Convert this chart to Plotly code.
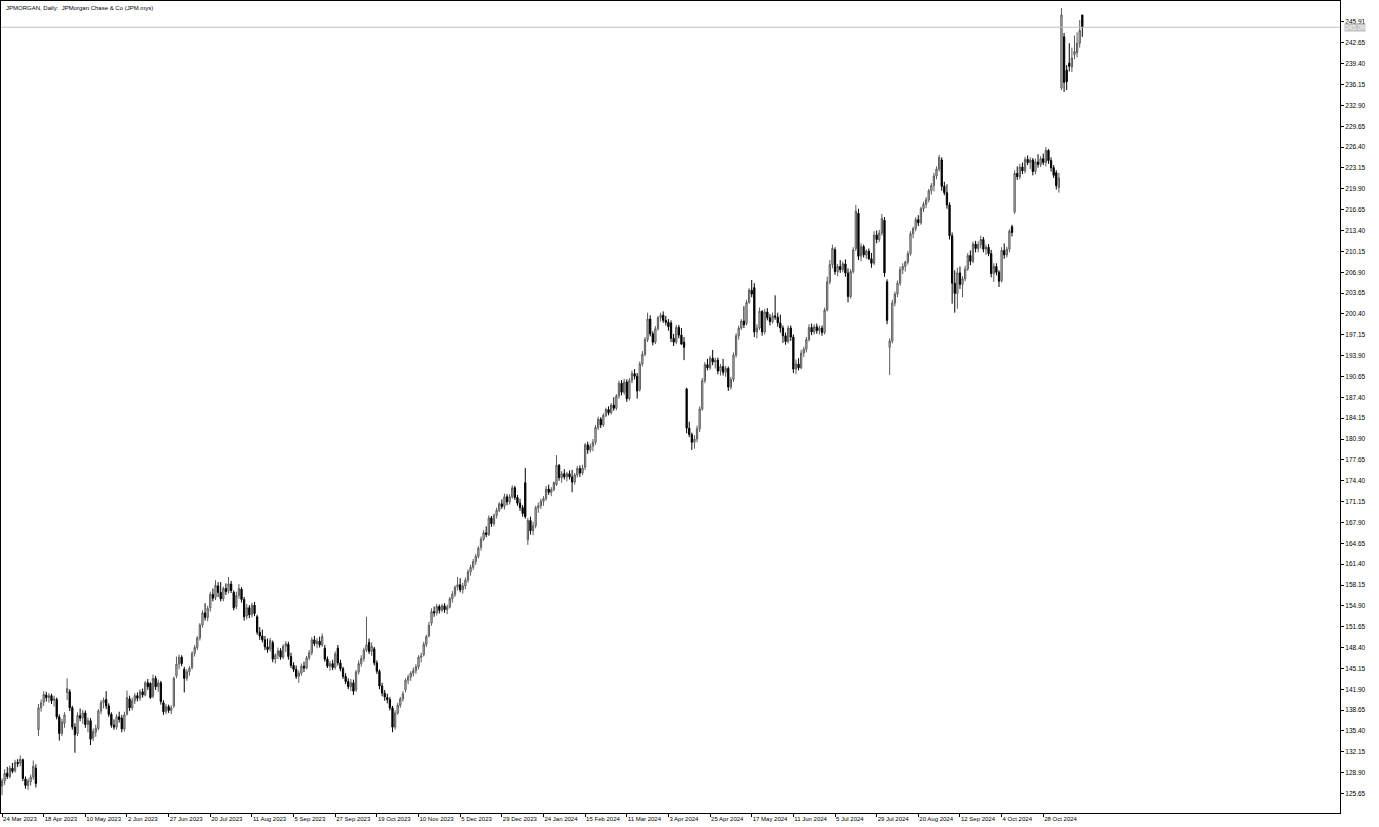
import plotly.graph_objects as go

# JPMORGAN daily bars, 24 Mar 2023 .. 18 Nov 2024 (one entry per trading day)
opens = [
    126.8, 127.6, 128.8, 128.3, 129.6, 129.2, 130.5, 130.4, 130.9, 127.9,
    126.9, 127.5, 128.2, 129.6, 135.6, 139.0, 139.9, 141.0, 140.6, 140.9,
    140.2, 140.3, 137.6, 135.0, 136.6, 141.4, 141.5, 139.0, 136.0, 135.0,
    137.8, 137.4, 138.2, 136.4, 137.0, 134.3, 135.2, 135.8, 138.5, 139.8,
    140.3, 139.3, 138.0, 136.3, 136.0, 137.6, 137.4, 135.7, 138.0, 140.4,
    139.0, 140.1, 140.9, 140.5, 141.5, 141.0, 142.9, 142.8, 140.8, 143.6,
    142.3, 142.9, 139.8, 138.4, 139.2, 138.6, 139.3, 144.0, 145.8, 146.9,
    145.0, 143.6, 144.6, 145.3, 147.5, 148.4, 149.9, 151.9, 153.8, 153.1,
    154.6, 156.7, 156.2, 158.0, 157.0, 156.0, 157.6, 157.2, 158.3, 157.0,
    154.8, 156.5, 157.5, 155.9, 153.3, 154.6, 153.5, 155.0, 153.2, 150.8,
    150.2, 149.6, 148.5, 148.2, 149.2, 146.6, 147.2, 147.9, 146.9, 148.6,
    148.9, 147.0, 145.6, 145.0, 143.9, 144.4, 145.5, 145.2, 146.8, 147.6,
    149.6, 149.0, 149.4, 148.8, 148.3, 146.6, 145.5, 145.9, 145.3, 148.3,
    146.0, 145.1, 143.9, 143.1, 142.3, 142.9, 141.8, 144.6, 145.9, 146.7,
    148.0, 149.2, 147.8, 148.2, 146.0, 144.7, 142.4, 141.3, 140.6, 140.3,
    139.0, 136.0, 138.2, 139.4, 140.4, 141.8, 143.3, 143.8, 144.4, 144.8,
    145.4, 146.9, 147.3, 148.9, 150.2, 152.2, 154.0, 153.8, 154.8, 154.2,
    154.9, 154.3, 154.7, 156.0, 156.7, 157.8, 158.2, 157.4, 158.0, 158.9,
    160.2, 160.9, 161.8, 162.6, 164.0, 165.3, 166.3, 166.0, 168.6, 167.7,
    169.0, 169.8, 170.8, 170.4, 171.9, 171.1, 171.9, 173.3, 171.8, 170.9,
    170.2, 174.1, 165.2, 168.2, 166.6, 167.4, 170.2, 170.5, 171.2, 171.6,
    173.1, 172.6, 173.0, 173.8, 176.8, 174.9, 175.5, 175.0, 175.5, 175.0,
    174.2, 175.3, 176.3, 175.6, 176.5, 180.0, 179.2, 179.8, 180.4, 182.7,
    184.0, 183.1, 184.6, 185.5, 185.0, 186.2, 185.7, 187.6, 189.6, 188.2,
    189.8, 187.2, 190.0, 191.1, 190.7, 188.6, 192.6, 194.1, 196.4, 199.6,
    197.3, 196.0, 198.1, 199.8, 200.2, 199.4, 199.1, 199.0, 196.6, 196.0,
    198.3, 197.1, 196.0, 188.7, 182.6, 181.6, 180.4, 180.9, 182.5, 185.6,
    190.0, 192.5, 192.0, 193.5, 192.9, 193.2, 191.5, 192.2, 191.3, 191.9,
    189.0, 190.2, 194.0, 197.0, 198.2, 199.3, 198.9, 202.2, 204.1, 204.5,
    197.6, 198.2, 200.8, 197.6, 200.7, 199.8, 199.2, 200.1, 199.9, 199.0,
    198.2, 197.0, 196.1, 198.2, 196.8, 191.8, 192.6, 192.0, 194.3, 194.9,
    196.4, 198.3, 197.6, 198.4, 197.8, 198.2, 197.5, 201.0, 205.4, 208.1,
    210.4, 207.0, 207.8, 207.3, 208.2, 206.8, 203.1, 207.0, 210.6, 216.1,
    209.4, 210.9, 209.6, 210.2, 209.0, 208.3, 212.7, 212.0, 213.0, 215.0,
    205.4, 195.2, 196.2, 202.1, 203.5, 205.2, 207.3, 207.8, 208.5, 209.8,
    212.9, 213.7, 215.1, 214.6, 216.8, 217.5, 218.2, 219.6, 220.4, 221.9,
    223.0, 224.4, 220.3, 219.3, 217.4, 212.6, 205.2, 203.6, 206.8, 205.0,
    205.9, 207.4, 209.5, 208.6, 211.3, 210.6, 211.2, 212.0, 210.5, 210.8,
    209.8, 206.7, 207.8, 206.9, 205.6, 210.3, 209.6, 210.5, 214.0, 216.3,
    222.3, 221.8, 223.3, 222.7, 224.5, 224.0, 224.4, 222.6, 224.1, 223.7,
    224.6, 224.0, 225.9, 224.3, 223.2, 222.4, 220.1, 235.6, 243.6, 238.4,
    239.5, 238.9, 240.8, 241.1, 242.6, 247.0,
]
highs = [
    128.0, 129.4, 129.8, 130.0, 130.4, 130.9, 131.0, 131.6, 131.1, 128.3,
    128.0, 128.6, 130.8, 130.2, 139.6, 140.3, 141.6, 141.5, 141.3, 141.2,
    140.9, 140.6, 138.0, 137.3, 138.3, 143.6, 141.9, 139.3, 136.6, 138.3,
    138.9, 138.7, 138.6, 137.5, 137.4, 135.8, 136.4, 138.8, 140.2, 140.6,
    141.6, 139.7, 138.3, 137.2, 138.0, 138.4, 137.9, 138.4, 141.7, 140.9,
    140.6, 141.3, 141.4, 141.9, 142.0, 143.2, 143.5, 143.0, 144.2, 144.0,
    143.4, 143.2, 140.2, 139.6, 139.5, 139.4, 143.9, 147.0, 147.3, 147.2,
    145.4, 145.0, 145.5, 147.8, 148.8, 150.2, 152.2, 154.2, 155.3, 154.9,
    157.1, 157.6, 158.9, 158.6, 158.6, 157.9, 158.4, 159.4, 158.8, 157.3,
    157.1, 158.3, 157.8, 156.3, 155.2, 155.0, 155.4, 155.5, 153.5, 151.6,
    151.2, 150.2, 149.8, 149.9, 149.5, 147.5, 148.4, 148.3, 148.9, 149.4,
    149.3, 147.6, 146.1, 145.6, 144.8, 145.9, 146.2, 147.1, 148.0, 150.0,
    150.2, 149.9, 150.1, 150.6, 148.8, 147.0, 146.3, 146.5, 147.8, 148.8,
    146.5, 145.4, 144.4, 143.6, 143.5, 143.4, 144.9, 146.4, 147.2, 148.4,
    153.2, 149.8, 149.2, 148.5, 146.4, 145.0, 142.9, 141.8, 141.2, 140.7,
    139.3, 138.6, 139.8, 140.7, 141.6, 143.6, 144.2, 144.7, 145.3, 145.8,
    147.2, 147.6, 149.3, 150.4, 152.4, 154.5, 154.8, 155.2, 155.1, 155.2,
    155.3, 155.1, 156.3, 157.2, 158.1, 159.4, 159.2, 158.5, 159.3, 160.6,
    161.3, 162.2, 163.0, 164.2, 165.7, 166.7, 167.3, 169.0, 168.9, 169.3,
    170.2, 171.1, 171.5, 172.4, 172.3, 172.3, 173.7, 173.6, 172.2, 171.6,
    170.6, 176.4, 168.6, 168.8, 168.0, 170.5, 171.0, 171.6, 172.0, 173.6,
    173.8, 173.4, 174.3, 178.4, 177.0, 175.9, 176.2, 175.8, 176.0, 176.1,
    175.6, 176.7, 176.8, 176.9, 180.3, 180.5, 180.2, 180.9, 183.1, 184.4,
    184.3, 184.9, 185.8, 186.0, 186.5, 187.4, 187.9, 190.0, 190.1, 190.3,
    190.2, 190.4, 191.6, 191.8, 191.2, 193.0, 194.6, 196.8, 200.6, 200.2,
    197.7, 198.5, 200.1, 200.6, 200.8, 200.1, 199.6, 199.4, 197.3, 198.7,
    198.7, 198.2, 196.8, 188.9, 183.6, 181.9, 181.5, 183.0, 186.0, 190.4,
    192.9, 193.4, 193.9, 194.8, 193.6, 193.6, 192.6, 193.4, 192.3, 192.2,
    190.6, 194.4, 197.4, 198.6, 199.6, 201.6, 202.6, 204.4, 205.7, 205.2,
    198.8, 201.4, 201.0, 201.2, 201.3, 200.4, 200.6, 203.3, 200.6, 200.3,
    198.6, 197.5, 198.6, 198.6, 197.2, 193.3, 193.5, 194.8, 195.3, 196.8,
    198.8, 198.9, 198.8, 198.9, 198.6, 198.6, 201.4, 206.2, 208.8, 211.2,
    210.8, 208.2, 208.8, 208.6, 208.9, 207.5, 207.4, 210.8, 217.4, 216.8,
    211.4, 211.2, 210.5, 210.6, 209.9, 213.3, 213.4, 213.5, 216.0, 215.5,
    205.8, 196.6, 202.6, 203.9, 205.6, 207.8, 208.3, 208.7, 210.2, 213.3,
    214.0, 215.5, 215.8, 217.1, 217.9, 218.6, 219.9, 220.8, 222.4, 223.4,
    225.2, 224.8, 221.0, 220.6, 217.8, 213.1, 207.2, 207.6, 207.8, 206.3,
    207.9, 209.9, 210.3, 211.7, 211.8, 211.7, 212.6, 212.4, 211.2, 211.3,
    210.4, 208.3, 208.3, 207.2, 210.8, 211.4, 210.9, 213.6, 214.3, 222.8,
    223.4, 223.8, 224.0, 224.9, 225.1, 224.8, 224.7, 224.6, 225.3, 225.0,
    225.4, 226.4, 226.1, 224.8, 223.6, 222.8, 222.4, 248.1, 244.2, 239.2,
    242.6, 241.9, 243.8, 244.3, 246.2, 247.0,
]
lows = [
    125.4, 127.0, 127.9, 128.0, 128.8, 128.9, 129.8, 129.9, 127.6, 126.4,
    126.2, 126.9, 127.8, 126.6, 134.6, 138.4, 139.3, 140.0, 139.8, 139.6,
    139.2, 137.2, 133.9, 134.6, 135.9, 140.2, 138.5, 135.6, 132.0, 134.6,
    136.9, 136.5, 135.9, 135.2, 133.2, 133.8, 134.5, 135.5, 138.0, 138.9,
    138.8, 137.6, 135.9, 135.6, 135.6, 136.7, 135.2, 135.3, 137.8, 138.5,
    138.6, 139.6, 140.0, 140.1, 140.6, 140.8, 141.8, 140.4, 140.5, 141.8,
    141.5, 139.5, 137.9, 138.0, 138.2, 138.0, 139.0, 143.6, 145.0, 145.5,
    141.4, 143.2, 144.0, 145.0, 147.0, 148.0, 149.5, 151.5, 152.6, 152.5,
    154.0, 155.6, 155.8, 156.3, 155.6, 155.6, 156.6, 156.8, 156.9, 154.2,
    154.4, 156.0, 155.4, 152.6, 152.8, 153.0, 153.1, 153.3, 150.4, 149.6,
    149.2, 148.0, 147.6, 147.8, 146.1, 145.9, 146.6, 146.5, 146.6, 147.7,
    146.5, 145.2, 144.6, 143.5, 142.9, 144.0, 144.6, 145.0, 146.4, 147.2,
    148.6, 148.3, 148.4, 148.5, 146.2, 145.2, 144.8, 144.9, 145.0, 145.6,
    144.7, 143.5, 142.7, 141.9, 141.6, 141.0, 141.5, 144.2, 145.4, 146.2,
    147.7, 147.4, 147.1, 145.6, 144.3, 141.9, 140.8, 140.1, 139.7, 138.6,
    135.2, 135.6, 137.9, 139.0, 140.0, 141.4, 142.7, 143.2, 143.9, 144.3,
    145.0, 146.1, 147.0, 148.5, 150.0, 151.8, 153.2, 153.4, 153.7, 153.9,
    153.8, 153.6, 154.5, 155.4, 156.3, 157.3, 157.0, 156.8, 157.5, 158.5,
    159.6, 160.5, 161.3, 162.3, 163.5, 165.0, 165.6, 165.8, 167.2, 167.3,
    168.5, 169.5, 170.0, 169.9, 170.6, 170.7, 171.6, 171.4, 170.5, 169.7,
    168.8, 168.5, 164.4, 166.0, 165.9, 167.0, 169.4, 170.0, 170.5, 171.3,
    172.2, 172.0, 172.8, 173.6, 174.4, 174.1, 174.6, 174.3, 174.6, 172.6,
    173.8, 174.9, 175.0, 175.3, 176.1, 178.6, 178.8, 179.0, 180.0, 182.3,
    182.6, 182.8, 184.3, 184.6, 184.7, 185.3, 185.4, 187.2, 187.7, 187.8,
    186.7, 186.9, 189.6, 190.2, 187.2, 188.3, 192.2, 193.8, 196.0, 196.9,
    195.5, 195.7, 197.8, 199.2, 199.0, 198.6, 197.8, 196.0, 195.4, 195.7,
    196.6, 195.6, 193.2, 181.8, 181.2, 179.2, 179.4, 180.4, 182.0, 185.3,
    189.6, 191.6, 191.7, 192.4, 191.9, 191.0, 190.8, 190.8, 190.6, 188.4,
    188.6, 189.8, 193.6, 196.4, 197.9, 198.2, 198.6, 202.0, 203.0, 196.8,
    196.6, 197.9, 197.0, 197.2, 199.4, 198.6, 198.9, 199.5, 198.4, 197.5,
    195.9, 195.6, 195.8, 196.2, 191.2, 191.0, 191.6, 191.8, 193.7, 194.4,
    196.1, 197.1, 197.2, 197.3, 197.2, 197.0, 197.2, 200.8, 205.0, 207.5,
    206.5, 206.3, 206.8, 206.9, 206.2, 202.2, 202.8, 206.7, 210.2, 208.8,
    208.6, 209.2, 209.0, 208.8, 207.6, 208.0, 211.4, 211.6, 212.6, 206.2,
    198.8, 190.9, 195.8, 201.6, 203.0, 204.8, 206.6, 207.0, 208.1, 209.5,
    212.2, 213.3, 214.1, 214.3, 216.3, 216.9, 217.8, 219.0, 219.5, 221.4,
    222.6, 219.6, 218.9, 216.8, 212.0, 202.0, 200.6, 201.2, 204.3, 203.0,
    205.5, 207.1, 208.0, 208.3, 210.0, 210.0, 210.6, 210.0, 209.6, 209.4,
    206.1, 205.4, 206.4, 204.6, 205.3, 209.0, 209.2, 210.0, 212.5, 216.0,
    221.3, 221.4, 222.2, 222.3, 223.6, 223.0, 222.0, 222.2, 223.2, 223.3,
    223.6, 223.4, 223.8, 222.6, 221.6, 219.8, 219.3, 235.3, 235.0, 235.3,
    238.2, 238.1, 240.1, 240.4, 241.9, 243.6,
]
closes = [
    127.6, 128.8, 128.3, 129.6, 129.1, 130.5, 130.3, 131.0, 128.0, 126.9,
    127.6, 128.2, 129.9, 127.2, 139.0, 139.8, 141.1, 140.6, 140.9, 140.1,
    140.4, 137.6, 135.0, 136.8, 137.9, 142.0, 139.0, 136.0, 134.8, 137.8,
    137.4, 138.2, 136.4, 137.0, 134.1, 135.3, 135.8, 138.5, 139.8, 140.2,
    139.3, 138.0, 136.3, 136.0, 137.6, 137.2, 135.7, 137.9, 140.6, 139.0,
    140.1, 140.9, 140.5, 141.5, 141.0, 142.9, 142.3, 140.6, 143.6, 142.3,
    142.9, 140.0, 138.4, 139.2, 138.6, 139.0, 143.6, 145.8, 146.9, 145.9,
    143.6, 144.6, 145.2, 147.5, 148.4, 149.9, 151.9, 153.8, 153.1, 154.5,
    156.7, 156.1, 158.1, 157.0, 156.0, 157.6, 157.1, 158.3, 157.3, 154.6,
    156.5, 157.6, 155.9, 153.2, 154.6, 153.5, 155.0, 153.7, 150.8, 150.2,
    149.6, 148.5, 148.1, 149.5, 146.6, 147.2, 147.9, 146.9, 148.6, 149.0,
    147.0, 145.6, 145.0, 143.9, 144.4, 145.5, 145.2, 146.8, 147.6, 149.6,
    149.0, 149.4, 148.8, 150.1, 146.6, 145.5, 145.9, 145.3, 147.4, 146.0,
    145.1, 143.9, 143.1, 142.3, 142.9, 141.6, 144.6, 145.9, 146.7, 148.0,
    148.8, 147.8, 148.6, 146.0, 144.7, 142.4, 141.3, 140.7, 140.3, 139.0,
    136.0, 138.2, 139.4, 140.4, 141.2, 143.3, 143.8, 144.4, 144.8, 145.4,
    146.9, 147.1, 148.9, 150.1, 151.9, 154.0, 153.8, 154.8, 154.2, 154.9,
    154.3, 154.7, 156.0, 156.7, 157.8, 158.2, 157.4, 158.0, 158.9, 160.2,
    160.9, 161.8, 162.6, 163.9, 165.3, 166.3, 166.0, 168.6, 167.7, 169.0,
    169.8, 170.8, 170.4, 171.9, 171.1, 171.9, 173.3, 171.8, 170.9, 170.2,
    169.3, 168.8, 168.2, 166.6, 167.4, 170.2, 170.5, 171.2, 171.6, 173.1,
    172.6, 173.0, 174.1, 176.8, 174.9, 175.5, 175.0, 175.5, 175.0, 174.2,
    175.3, 176.3, 175.6, 176.4, 180.0, 179.2, 179.8, 180.4, 182.7, 184.0,
    183.1, 184.6, 185.5, 185.0, 186.2, 185.7, 187.6, 189.6, 188.2, 189.8,
    187.2, 190.0, 191.1, 190.7, 188.4, 192.6, 194.1, 196.4, 199.6, 197.3,
    196.0, 198.1, 199.8, 200.2, 199.4, 199.1, 198.4, 196.6, 196.0, 198.3,
    197.1, 195.7, 195.2, 182.6, 181.6, 180.4, 180.9, 182.5, 185.6, 190.0,
    192.5, 192.0, 193.5, 192.9, 193.2, 191.5, 192.2, 191.3, 191.9, 189.0,
    190.2, 194.0, 197.0, 198.2, 199.3, 198.7, 202.2, 204.1, 203.5, 197.6,
    198.2, 200.8, 197.6, 200.7, 199.8, 199.2, 200.1, 199.9, 199.0, 198.2,
    197.0, 196.1, 198.2, 196.8, 191.8, 192.6, 192.0, 194.3, 194.9, 196.4,
    198.3, 197.6, 198.4, 197.8, 198.2, 197.5, 201.0, 205.4, 208.1, 210.6,
    207.0, 207.8, 207.3, 208.2, 206.8, 203.1, 207.0, 210.4, 216.4, 209.4,
    210.9, 209.6, 210.2, 209.0, 208.3, 212.7, 212.0, 213.0, 215.3, 206.8,
    199.4, 196.2, 202.1, 203.5, 205.2, 207.3, 207.8, 208.5, 209.8, 212.9,
    213.7, 215.1, 214.6, 216.8, 217.5, 218.2, 219.6, 220.4, 221.9, 223.0,
    224.8, 220.3, 219.3, 217.4, 212.6, 205.2, 203.6, 206.8, 205.0, 205.9,
    207.4, 209.5, 208.6, 211.3, 210.6, 211.2, 212.0, 210.5, 210.8, 209.8,
    206.7, 207.8, 206.9, 205.5, 210.3, 209.6, 210.5, 213.3, 213.1, 222.3,
    221.8, 223.3, 222.7, 224.5, 224.0, 224.4, 222.6, 224.1, 223.7, 224.6,
    224.0, 225.9, 224.3, 223.2, 222.0, 220.4, 221.6, 247.0, 236.5, 236.6,
    239.0, 240.3, 241.3, 242.6, 244.6, 245.1,
]

# time scale labels, one every 16 bars
date_labels = [
    "24 Mar 2023", "18 Apr 2023", "10 May 2023", "2 Jun 2023", "27 Jun 2023",
    "20 Jul 2023", "11 Aug 2023", "5 Sep 2023", "27 Sep 2023", "19 Oct 2023",
    "10 Nov 2023", "5 Dec 2023", "29 Dec 2023", "24 Jan 2024", "15 Feb 2024",
    "11 Mar 2024", "3 Apr 2024", "25 Apr 2024", "17 May 2024", "11 Jun 2024",
    "5 Jul 2024", "29 Jul 2024", "20 Aug 2024", "12 Sep 2024", "4 Oct 2024",
    "28 Oct 2024",
]
label_step = 16

# price scale labels
price_ticks = [
    245.91, 242.65, 239.40, 236.15, 232.90, 229.65, 226.40, 223.15, 219.90,
    216.65, 213.40, 210.15, 206.90, 203.65, 200.40, 197.15, 193.90, 190.65,
    187.40, 184.15, 180.90, 177.65, 174.40, 171.15, 167.90, 164.65, 161.40,
    158.15, 154.90, 151.65, 148.40, 145.15, 141.90, 138.65, 135.40, 132.15,
    128.90, 125.65,
]
last_price = 245.09
title_text = "JPMORGAN, Daily:  JPMorgan Chase & Co (JPM.mys)"

FAMILY = "Liberation Sans, Arial, sans-serif"
SMALL = dict(family=FAMILY, size=6, color="#000000")
PRICE_FONT = dict(family=FAMILY, size=6.5, color="#000000")

bars = list(range(len(closes)))

fig = go.Figure(
    go.Candlestick(
        x=bars,
        open=opens,
        high=highs,
        low=lows,
        close=closes,
        increasing=dict(line=dict(color="#5a5a5a", width=1), fillcolor="#d4d4d4"),
        decreasing=dict(line=dict(color="#000000", width=1), fillcolor="#000000"),
        whiskerwidth=0,
        showlegend=False,
    )
)

fig.update_xaxes(
    range=[-0.4, 514],
    rangeslider_visible=False,
    showgrid=False,
    zeroline=False,
    showline=True,
    linecolor="#000000",
    linewidth=1,
    mirror=True,
    automargin=False,
    tickmode="array",
    tickvals=[k * label_step for k in range(len(date_labels))],
    ticktext=date_labels,
    tickangle=0,
    ticks="outside",
    ticklen=3,
    tickcolor="#000000",
    ticklabelposition="outside right",
    tickfont=SMALL,
)
fig.update_yaxes(
    range=[122.61, 249.18],
    side="right",
    showgrid=False,
    zeroline=False,
    showline=True,
    linecolor="#000000",
    linewidth=1,
    mirror=True,
    automargin=False,
    tickmode="array",
    tickvals=price_ticks,
    ticktext=[f"{p:.2f}" for p in price_ticks],
    ticks="outside",
    ticklen=3,
    tickcolor="#000000",
    tickfont=PRICE_FONT,
)

# current price line and its marker on the price scale
fig.add_hline(y=last_price, line=dict(color="#c0c0c0", width=1))
fig.add_annotation(
    x=1, xref="paper", y=last_price, yref="y",
    xanchor="left", yanchor="middle", xshift=4,
    text=f"{last_price:.2f}", showarrow=False,
    bgcolor="#c0c0c0", borderpad=0,
    font=dict(family=FAMILY, size=6.5, color="#ffffff"),
)
fig.add_annotation(
    x=0, xref="paper", y=1, yref="paper",
    xanchor="left", yanchor="top", xshift=3, yshift=-2,
    text=title_text, showarrow=False, font=SMALL,
)

fig.update_layout(
    width=1379,
    height=827,
    margin=dict(l=1, r=39, t=1, b=14),
    paper_bgcolor="#ffffff",
    plot_bgcolor="#ffffff",
    hovermode=False,
)

fig.write_html(
    "out.html",
    config={"displayModeBar": False},
    post_script="document.body.style.margin='0';",
)
